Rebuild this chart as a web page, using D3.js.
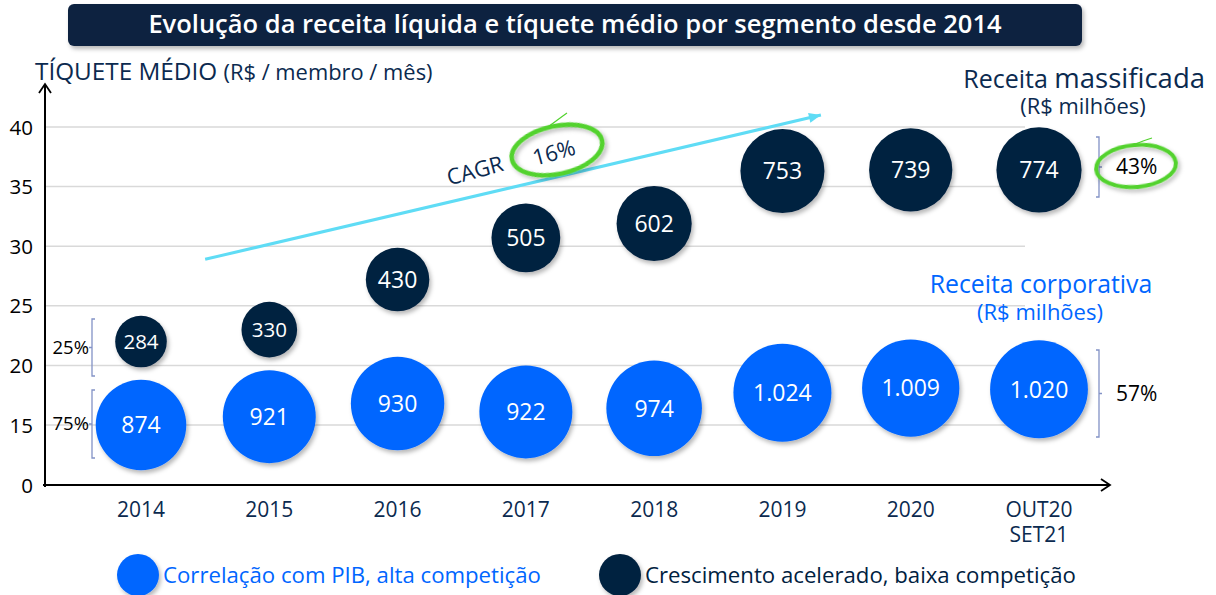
<!DOCTYPE html>
<html><head><meta charset="utf-8">
<script src="https://cdn.jsdelivr.net/npm/d3@7"></script>
<style>
html,body{margin:0;padding:0;background:#fff;}
svg{display:block;font-family:"Open Sans",Lato,sans-serif;}
</style></head>
<body>
<svg id="c" width="1216" height="595"></svg>
<script>
// ---- data ----
const categories = ["2014","2015","2016","2017","2018","2019","2020","OUT20|SET21"];
const ticketCorporativo = [15.0, 15.7, 16.8, 16.1, 16.4, 17.7, 18.1, 18.0];
const receitaCorporativa = [874, 921, 930, 922, 974, 1024, 1009, 1020];
const ticketMassificado = [22.0, 23.0, 27.2, 30.7, 31.9, 36.3, 36.4, 36.4];
const receitaMassificada = [284, 330, 430, 505, 602, 753, 739, 774];
const yTicks = [0, 15, 20, 25, 30, 35, 40];
const shareMassificada = ["25%", "43%"];
const shareCorporativa = ["75%", "57%"];
const cagr = "16%";
const title = "Evolução da receita líquida e tíquete médio por segmento desde 2014";
const legendLabels = ["Correlação com PIB, alta competição", "Crescimento acelerado, baixa competição"];

const BLUE = "#0066ff", NAVY = "#00213f", TXT = "#0b2a4f";
const svg = d3.select("#c");
const pt = d3.formatLocale({decimal:",", thousands:".", grouping:[3], currency:["R$",""]});
const fmt = pt.format(",d");

const x = d3.scalePoint().domain(categories).range([141, 1039]);
const y = d3.scaleLinear().domain([0, 15, 40]).range([485, 425, 127]);
const r = d3.scaleSqrt().domain([0, 1024]).range([0, 49]);
const X0 = 45, XEND = 1110, GRIDEND = 1025;

const defs = svg.append("defs");
const f = defs.append("filter").attr("id","sh").attr("x","-30%").attr("y","-30%").attr("width","160%").attr("height","160%");
f.append("feDropShadow").attr("dx",2).attr("dy",3).attr("stdDeviation",2).attr("flood-color","#000").attr("flood-opacity",0.28);

// title
svg.append("rect").attr("x",68).attr("y",4).attr("width",1014).attr("height",42).attr("rx",6)
  .attr("fill","#0f2340").attr("filter","url(#sh)");
svg.append("text").attr("x",575).attr("y",33).attr("text-anchor","middle").attr("fill","#fff")
  .attr("font-weight",600).attr("font-size",25.5).text(title);

// grid
svg.append("g").selectAll("line").data(yTicks.filter(d=>d>0)).join("line")
  .attr("x1",X0).attr("x2",GRIDEND).attr("y1",d=>y(d)).attr("y2",d=>y(d))
  .attr("stroke","#d9d9d9").attr("stroke-width",1.5);

// y axis
const ya = svg.append("g").attr("transform",`translate(${X0-12},0)`)
  .call(d3.axisLeft(y).tickValues(yTicks).tickSize(0).tickPadding(0));
ya.select(".domain").remove();
ya.selectAll("text").attr("font-size",20.5).attr("fill","#000").attr("font-family","'Open Sans',sans-serif").attr("dy","0.35em");

// axis lines with arrows
const ax = svg.append("g").attr("stroke","#000").attr("stroke-width",2).attr("fill","none");
ax.append("line").attr("x1",X0).attr("x2",X0).attr("y1",y(0)+2).attr("y2",84);
ax.append("path").attr("d",`M${X0-6},${93}L${X0},${84}L${X0+6},${93}`).attr("stroke-width",1.8);
ax.append("line").attr("x1",X0-2).attr("x2",XEND).attr("y1",y(0)).attr("y2",y(0));
ax.append("path").attr("d",`M${XEND-9},${y(0)-6}L${XEND},${y(0)}L${XEND-9},${y(0)+6}`).attr("stroke-width",1.8);

// x labels
const xl = svg.append("g");
categories.forEach(c=>{
  const t = xl.append("text").attr("x",x(c)).attr("y",517).attr("text-anchor","middle")
    .attr("font-size",21).attr("fill",TXT);
  c.split("|").forEach((s,i)=>t.append("tspan").attr("x",x(c)).attr("dy",i?25:0).text(s));
});

// y title
const yt = svg.append("text").attr("x",35).attr("y",80).attr("fill",TXT);
yt.append("tspan").attr("font-size",24.3).text("TÍQUETE MÉDIO ");
yt.append("tspan").attr("font-size",21.9).text("(R$ / membro / mês)");

// CAGR arrow (annotation along the trend)
const xi = d3.scaleLinear().domain([0, categories.length-1]).range(x.range());
const a1 = [xi(0.5), y(28.9)], a2 = [xi(5.3), y(41.0)];
svg.append("line").attr("x1",a1[0]).attr("y1",a1[1]).attr("x2",a2[0]).attr("y2",a2[1])
  .attr("stroke","#5fdcf5").attr("stroke-width",3);
const ang = Math.atan2(a2[1]-a1[1], a2[0]-a1[0])*180/Math.PI;
svg.append("path").attr("d","M0,0L-12,-5L-12,5Z").attr("fill","#5fdcf5")
  .attr("transform",`translate(${a2[0]},${a2[1]}) rotate(${ang})`);
svg.append("text").attr("transform",`translate(477,178) rotate(${ang-2})`).attr("text-anchor","middle")
  .attr("font-size",22).attr("fill",TXT).text("CAGR");
svg.append("text").attr("transform",`translate(556,160) rotate(${ang-2})`).attr("text-anchor","middle")
  .attr("font-size",22).attr("fill",TXT).text(cagr);
svg.append("ellipse").attr("transform","translate(557,150) rotate(-12)").attr("rx",46).attr("ry",24)
  .attr("fill","none").attr("stroke","#52d22e").attr("stroke-width",4.5).attr("filter","url(#sh)");
svg.append("path").attr("d","M548,127 Q560,118 567,113").attr("stroke","#52d22e").attr("stroke-width",1.2).attr("fill","none");

// bubbles
function bubbles(vals, ticket, color){
  const g = svg.append("g");
  g.selectAll("circle").data(vals).join("circle")
    .attr("cx",(d,i)=>x(categories[i])).attr("cy",(d,i)=>y(ticket[i])).attr("r",d=>r(d))
    .attr("fill",color).attr("filter","url(#sh)");
  g.selectAll("text").data(vals).join("text")
    .attr("x",(d,i)=>x(categories[i])).attr("y",(d,i)=>y(ticket[i])).attr("dy","0.36em")
    .attr("text-anchor","middle").attr("fill","#fff").attr("font-size",d=>d<400?20.5:23).text(d=>fmt(d));
}
bubbles(receitaCorporativa, ticketCorporativo, BLUE);
bubbles(receitaMassificada, ticketMassificado, NAVY);

// brackets
const BR = "#8392c6";
function bracket(xp, y1, y2, dir){
  const m = (y1+y2)/2;
  svg.append("path").attr("d",`M${xp-3*dir},${y1}H${xp}V${y2}H${xp-3*dir}M${xp},${m}H${xp+3*dir}`)
    .attr("stroke",BR).attr("stroke-width",1.3).attr("fill","none");
  return m;
}
let m;
m = bracket(92, 319, 376, -1);
svg.append("text").attr("x",89).attr("y",m).attr("dy","0.35em").attr("text-anchor","end").attr("font-size",18.5).attr("fill","#000").text(shareMassificada[0]);
m = bracket(92, 390, 458, -1);
svg.append("text").attr("x",89).attr("y",m).attr("dy","0.35em").attr("text-anchor","end").attr("font-size",18.5).attr("fill","#000").text(shareCorporativa[0]);
m = bracket(1099, 137, 197, 1);
svg.append("text").attr("x",1116).attr("y",m).attr("dy","0.35em").attr("font-size",21).attr("fill","#000").text(shareMassificada[1]);
svg.append("ellipse").attr("transform","translate(1136,166) rotate(-5)").attr("rx",40).attr("ry",21)
  .attr("fill","none").attr("stroke","#52d22e").attr("stroke-width",4).attr("filter","url(#sh)");
svg.append("path").attr("d","M1133,145 Q1145,140 1152,138").attr("stroke","#52d22e").attr("stroke-width",1.2).attr("fill","none");
m = bracket(1099, 350, 437, 1);
svg.append("text").attr("x",1116).attr("y",m).attr("dy","0.35em").attr("font-size",21).attr("fill","#000").text(shareCorporativa[1]);

// series titles
const t1 = svg.append("text").attr("x",1205).attr("y",88).attr("text-anchor","end").attr("fill",TXT);
t1.append("tspan").attr("font-size",25).text("Receita ");
t1.append("tspan").attr("font-size",27.5).text("massificada");
svg.append("text").attr("x",1083).attr("y",114).attr("text-anchor","middle").attr("font-size",21.9).attr("fill",TXT).text("(R$ milhões)");
svg.append("text").attr("x",1041).attr("y",293).attr("text-anchor","middle").attr("font-size",24.8).attr("fill",BLUE).text("Receita corporativa");
svg.append("text").attr("x",1040).attr("y",320).attr("text-anchor","middle").attr("font-size",22).attr("fill",BLUE).text("(R$ milhões)");

// legend
const lg = [[138, BLUE, legendLabels[0]], [620, NAVY, legendLabels[1]]];
lg.forEach(([lx,col,lab])=>{
  svg.append("circle").attr("cx",lx).attr("cy",575).attr("r",21).attr("fill",col).attr("filter","url(#sh)");
  svg.append("text").attr("x",lx+25).attr("y",575).attr("dy","0.35em").attr("font-size",22.2).attr("fill",col).text(lab);
});
</script>
</body></html>
